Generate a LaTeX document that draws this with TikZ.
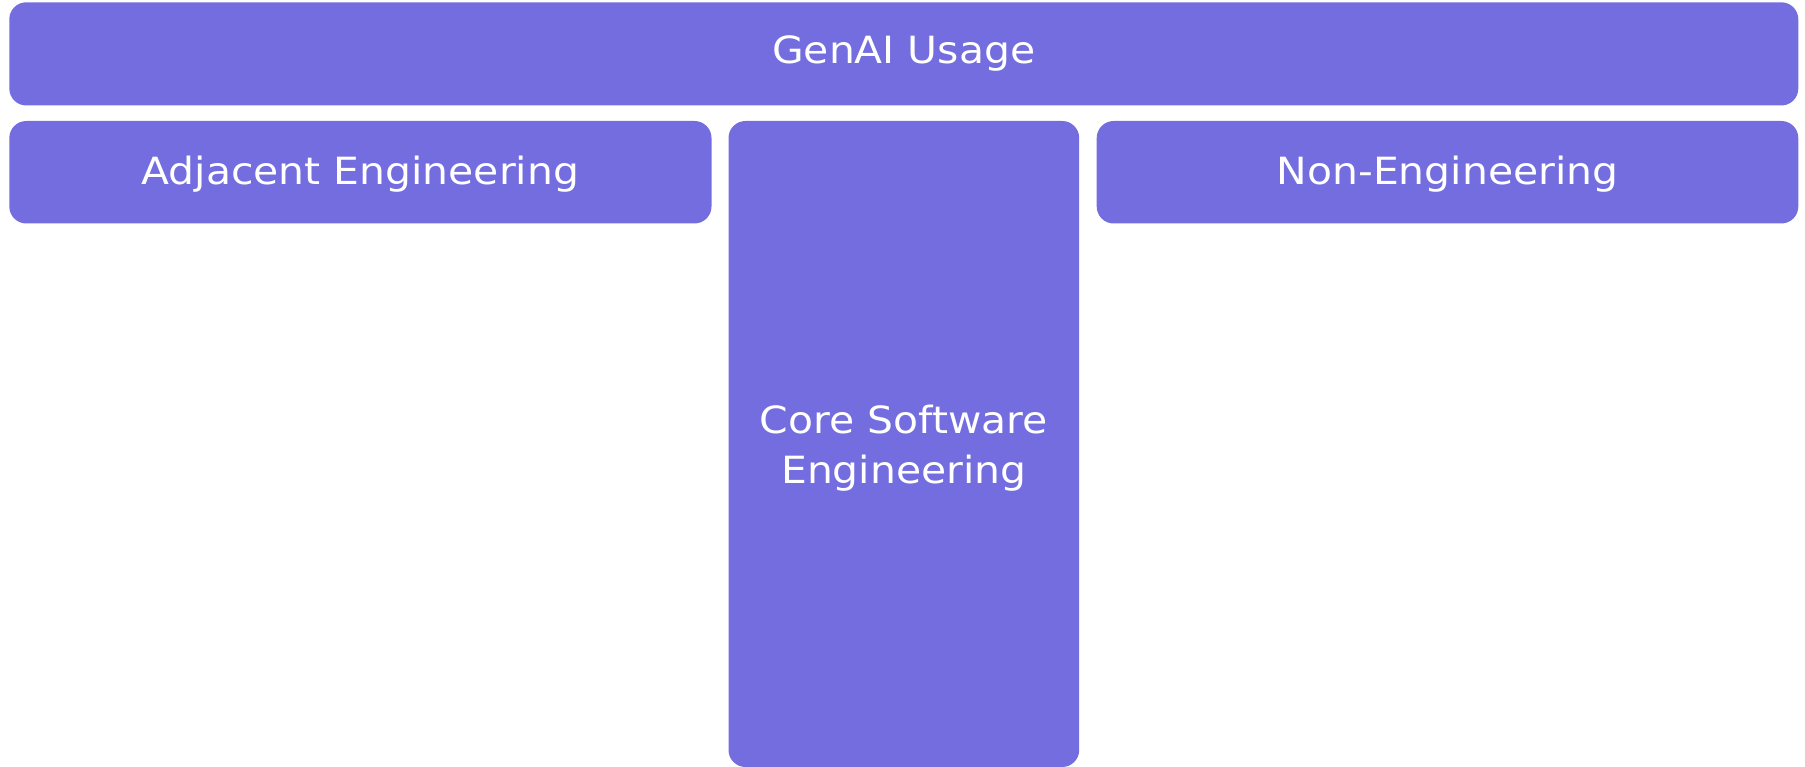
\documentclass[tikz,border=0pt]{standalone}
\usepackage{fontspec}
\setmainfont[FakeStretch=1.09]{DejaVu Sans}
\definecolor{boxc}{HTML}{736DDF}
\begin{document}
\begin{tikzpicture}[x=1pt,y=-1pt,
  box/.style={fill=boxc,draw=none,rounded corners=17pt},
  lbl/.style={text=white,font=\fontsize{37.5}{50}\selectfont,align=center,inner sep=0pt}]
\useasboundingbox (0,0) rectangle (1805,767);
\fill[box] (9.3,2.3) rectangle (1798.3,105.5);
\node[lbl,anchor=base] (top) at (903.8,64) {GenAI Usage};
\fill[box] (9.3,121) rectangle (711.5,223.5);
\node[lbl,anchor=base] (adj) at (360.4,184.5) {Adjacent Engineering};
\fill[box] (728.5,121) rectangle (1079.2,767);
\node[lbl] (core) at (903.8,448) {Core Software\\Engineering};
\fill[box] (1096.7,121) rectangle (1798.3,223.5);
\node[lbl,anchor=base] (non) at (1447.5,184.5) {Non-Engineering};
\end{tikzpicture}
\end{document}
